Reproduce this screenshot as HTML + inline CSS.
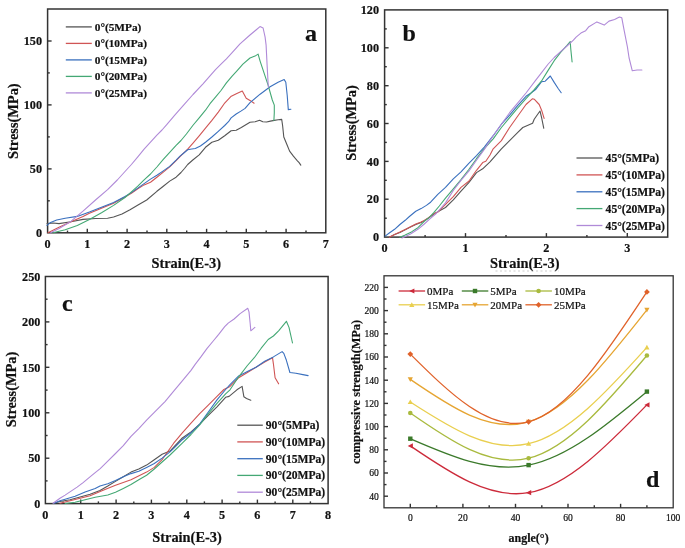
<!DOCTYPE html>
<html><head><meta charset="utf-8"><style>
html,body{margin:0;padding:0;background:#fff;}
svg{display:block;filter:blur(0.5px);}
text{font-family:"Liberation Serif",serif;fill:#111;stroke:#111;stroke-width:0.2px;}
</style></head><body>
<svg width="685" height="548" viewBox="0 0 685 548">
<rect width="685" height="548" fill="#fff"/>
<rect x="47.6" y="9" width="278.2" height="223.8" fill="none" stroke="#333333" stroke-width="1.5"/>
<line x1="87.3" y1="232.8" x2="87.3" y2="228.8" stroke="#333333" stroke-width="1.4"/>
<line x1="127.1" y1="232.8" x2="127.1" y2="228.8" stroke="#333333" stroke-width="1.4"/>
<line x1="166.8" y1="232.8" x2="166.8" y2="228.8" stroke="#333333" stroke-width="1.4"/>
<line x1="206.6" y1="232.8" x2="206.6" y2="228.8" stroke="#333333" stroke-width="1.4"/>
<line x1="246.3" y1="232.8" x2="246.3" y2="228.8" stroke="#333333" stroke-width="1.4"/>
<line x1="286.1" y1="232.8" x2="286.1" y2="228.8" stroke="#333333" stroke-width="1.4"/>
<line x1="67.5" y1="232.8" x2="67.5" y2="230.6" stroke="#333333" stroke-width="1.4"/>
<line x1="107.2" y1="232.8" x2="107.2" y2="230.6" stroke="#333333" stroke-width="1.4"/>
<line x1="147" y1="232.8" x2="147" y2="230.6" stroke="#333333" stroke-width="1.4"/>
<line x1="186.7" y1="232.8" x2="186.7" y2="230.6" stroke="#333333" stroke-width="1.4"/>
<line x1="226.5" y1="232.8" x2="226.5" y2="230.6" stroke="#333333" stroke-width="1.4"/>
<line x1="266.2" y1="232.8" x2="266.2" y2="230.6" stroke="#333333" stroke-width="1.4"/>
<line x1="306" y1="232.8" x2="306" y2="230.6" stroke="#333333" stroke-width="1.4"/>
<line x1="47.6" y1="168.9" x2="51.6" y2="168.9" stroke="#333333" stroke-width="1.4"/>
<line x1="47.6" y1="104.9" x2="51.6" y2="104.9" stroke="#333333" stroke-width="1.4"/>
<line x1="47.6" y1="41" x2="51.6" y2="41" stroke="#333333" stroke-width="1.4"/>
<line x1="47.6" y1="200.8" x2="49.8" y2="200.8" stroke="#333333" stroke-width="1.4"/>
<line x1="47.6" y1="136.9" x2="49.8" y2="136.9" stroke="#333333" stroke-width="1.4"/>
<line x1="47.6" y1="72.9" x2="49.8" y2="72.9" stroke="#333333" stroke-width="1.4"/>
<text x="0" y="0" font-size="12.2" font-weight="bold" text-anchor="middle" transform="translate(47.6,248) scale(1,1.08)" >0</text>
<text x="0" y="0" font-size="12.2" font-weight="bold" text-anchor="middle" transform="translate(87.3,248) scale(1,1.08)" >1</text>
<text x="0" y="0" font-size="12.2" font-weight="bold" text-anchor="middle" transform="translate(127.1,248) scale(1,1.08)" >2</text>
<text x="0" y="0" font-size="12.2" font-weight="bold" text-anchor="middle" transform="translate(166.8,248) scale(1,1.08)" >3</text>
<text x="0" y="0" font-size="12.2" font-weight="bold" text-anchor="middle" transform="translate(206.6,248) scale(1,1.08)" >4</text>
<text x="0" y="0" font-size="12.2" font-weight="bold" text-anchor="middle" transform="translate(246.3,248) scale(1,1.08)" >5</text>
<text x="0" y="0" font-size="12.2" font-weight="bold" text-anchor="middle" transform="translate(286.1,248) scale(1,1.08)" >6</text>
<text x="0" y="0" font-size="12.2" font-weight="bold" text-anchor="middle" transform="translate(325.9,248) scale(1,1.08)" >7</text>
<text x="0" y="0" font-size="12.2" font-weight="bold" text-anchor="end" transform="translate(42,237) scale(1,1.08)" >0</text>
<text x="0" y="0" font-size="12.2" font-weight="bold" text-anchor="end" transform="translate(42,173.1) scale(1,1.08)" >50</text>
<text x="0" y="0" font-size="12.2" font-weight="bold" text-anchor="end" transform="translate(42,109.1) scale(1,1.08)" >100</text>
<text x="0" y="0" font-size="12.2" font-weight="bold" text-anchor="end" transform="translate(42,45.2) scale(1,1.08)" >150</text>
<text x="0" y="0" font-size="14.4" font-weight="bold" text-anchor="middle" transform="translate(18.3,121.2) rotate(-90)">Stress(MPa)</text>
<text x="186.2" y="268" font-size="14.4" font-weight="bold" text-anchor="middle" >Strain(E-3)</text>
<text x="305" y="40.8" font-size="24" font-weight="bold" text-anchor="start" >a</text>
<line x1="65.8" y1="26.9" x2="91.8" y2="26.9" stroke="#555555" stroke-width="1.3"/>
<text x="94.8" y="30.9" font-size="11.3" font-weight="bold" text-anchor="start" >0°(5MPa)</text>
<line x1="65.8" y1="43.4" x2="91.8" y2="43.4" stroke="#D05555" stroke-width="1.3"/>
<text x="94.8" y="47.4" font-size="11.3" font-weight="bold" text-anchor="start" >0°(10MPa)</text>
<line x1="65.8" y1="59.9" x2="91.8" y2="59.9" stroke="#3A70BE" stroke-width="1.3"/>
<text x="94.8" y="63.9" font-size="11.3" font-weight="bold" text-anchor="start" >0°(15MPa)</text>
<line x1="65.8" y1="76.4" x2="91.8" y2="76.4" stroke="#44A874" stroke-width="1.3"/>
<text x="94.8" y="80.4" font-size="11.3" font-weight="bold" text-anchor="start" >0°(20MPa)</text>
<line x1="65.8" y1="92.9" x2="91.8" y2="92.9" stroke="#B08AD8" stroke-width="1.3"/>
<text x="94.8" y="96.9" font-size="11.3" font-weight="bold" text-anchor="start" >0°(25MPa)</text>
<polyline points="47,223.6 53,223 59,223.6 71,221.8 83,219.4 95.5,218.5 107.6,218.2 113.6,217 122,213.9 130,209.7 138,205 146.7,200 156.9,191.3 163.3,186.2 169.7,181.1 176.1,177.2 181,172.5 184.5,168.5 187.7,164.5 192.8,160 199.2,154.9 205.5,147.3 211.9,142.2 218.3,140.2 224.7,135.8 231.1,130.7 236.2,130.2 241.3,127.5 250,122.3 255.1,121.7 259.6,120.2 262.8,121.7 266.6,122 270.4,121.1 274.3,120.4 278.1,119.8 281.7,119.4 282.6,125.5 283.8,137 287,144.7 289.6,151.1 293.4,156.2 297.2,160.6 299.1,162.6 300.8,165.1" fill="none" stroke="#555555" stroke-width="1.1" stroke-linejoin="round" stroke-linecap="round" opacity="1.0"/>
<polyline points="48,232.7 59,227.3 71,221.8 83,216.4 89.4,213.2 101.5,208.2 113.6,203.2 125,196.9 131.4,193.2 137.8,188.8 144.1,184.9 150.5,182.3 156.9,177.2 163.3,172.1 169.7,166.8 176.1,160.6 180,156.6 187.7,149.2 192.8,143.4 199.2,135.8 205.5,128.1 211.9,120.4 218.3,112.1 224.2,103.7 230.8,96.6 236.3,93.8 242.3,91.1 246.2,98.2 250,100.4 254.1,103.2" fill="none" stroke="#D05555" stroke-width="1.1" stroke-linejoin="round" stroke-linecap="round" opacity="1.0"/>
<polyline points="47,225.4 50.6,222.4 56.7,220 65.2,218.2 77.3,216.4 89.4,212.1 101.5,207.3 113.6,202.4 125,196.4 131.4,192.6 137.8,188.1 144.1,183.6 150.5,179.1 156.9,175.3 163.3,170.9 169.7,166.4 176.1,160.2 180,156.2 183.8,153 187.7,149.8 190.2,149.2 195.3,148.5 200.4,146 205.5,142.2 211.9,137 218.3,131.3 224.7,125.5 228.5,121.7 231.1,117.9 236.2,114 241.3,110.9 245.1,108.4 250,102.6 260.1,94.2 270.1,86.8 278.1,82.2 284.2,79.6 285.8,82.2 287.2,95.2 288.3,109.6 290.9,109.2" fill="none" stroke="#3A70BE" stroke-width="1.1" stroke-linejoin="round" stroke-linecap="round" opacity="1.0"/>
<polyline points="53,232.7 65.2,229.7 77.3,225.4 89.4,219.4 101.5,212.7 113.6,205.4 125,197.5 131.4,191.9 137.8,186.2 144.1,179.8 150.5,174 156.9,167 163.3,159.4 169.7,152.3 176.1,145.3 181,140.5 186.4,134 192.8,125.5 199.2,117.9 205.5,110.2 210,103.7 215.5,97.1 221,90.5 226.4,82.9 231.9,76.3 237.4,70.3 242.9,64.2 250,58 255,56.1 258.1,54.1 260.1,61.1 264.1,73.2 268.1,85.2 272.3,100 274.3,105.1 274.3,112.8 273.9,120.4" fill="none" stroke="#44A874" stroke-width="1.1" stroke-linejoin="round" stroke-linecap="round" opacity="1.0"/>
<polyline points="50.6,232.7 59.1,228.5 71.2,221.2 83.3,210.9 95.5,200 107.6,189.7 117.3,180 125,171.5 131.4,164.5 137.8,156.8 144.1,149.1 150.5,142.1 156.9,135.1 162,130 166.5,124.9 175,114.8 184.7,103.9 193,94.5 203,83.8 210,75.8 215.5,69.7 221,64.2 226.4,58.8 231.9,52.8 240,43.8 250,35 256,30 260,26.6 263.1,28 265.1,37.1 266.1,45.1 267.1,65.1 268.1,83.2 268.5,87.2" fill="none" stroke="#B08AD8" stroke-width="1.1" stroke-linejoin="round" stroke-linecap="round" opacity="1.0"/>
<rect x="384.6" y="9.9" width="283.1" height="227.2" fill="none" stroke="#333333" stroke-width="1.5"/>
<line x1="465.5" y1="237.1" x2="465.5" y2="233.1" stroke="#333333" stroke-width="1.4"/>
<line x1="546.4" y1="237.1" x2="546.4" y2="233.1" stroke="#333333" stroke-width="1.4"/>
<line x1="627.3" y1="237.1" x2="627.3" y2="233.1" stroke="#333333" stroke-width="1.4"/>
<line x1="425.1" y1="237.1" x2="425.1" y2="234.9" stroke="#333333" stroke-width="1.4"/>
<line x1="506" y1="237.1" x2="506" y2="234.9" stroke="#333333" stroke-width="1.4"/>
<line x1="586.9" y1="237.1" x2="586.9" y2="234.9" stroke="#333333" stroke-width="1.4"/>
<line x1="384.6" y1="199.2" x2="388.6" y2="199.2" stroke="#333333" stroke-width="1.4"/>
<line x1="384.6" y1="161.4" x2="388.6" y2="161.4" stroke="#333333" stroke-width="1.4"/>
<line x1="384.6" y1="123.5" x2="388.6" y2="123.5" stroke="#333333" stroke-width="1.4"/>
<line x1="384.6" y1="85.7" x2="388.6" y2="85.7" stroke="#333333" stroke-width="1.4"/>
<line x1="384.6" y1="47.8" x2="388.6" y2="47.8" stroke="#333333" stroke-width="1.4"/>
<line x1="384.6" y1="218.2" x2="386.8" y2="218.2" stroke="#333333" stroke-width="1.4"/>
<line x1="384.6" y1="180.3" x2="386.8" y2="180.3" stroke="#333333" stroke-width="1.4"/>
<line x1="384.6" y1="142.4" x2="386.8" y2="142.4" stroke="#333333" stroke-width="1.4"/>
<line x1="384.6" y1="104.6" x2="386.8" y2="104.6" stroke="#333333" stroke-width="1.4"/>
<line x1="384.6" y1="66.7" x2="386.8" y2="66.7" stroke="#333333" stroke-width="1.4"/>
<line x1="384.6" y1="28.9" x2="386.8" y2="28.9" stroke="#333333" stroke-width="1.4"/>
<text x="0" y="0" font-size="12.2" font-weight="bold" text-anchor="middle" transform="translate(384.6,252) scale(1,1.08)" >0</text>
<text x="0" y="0" font-size="12.2" font-weight="bold" text-anchor="middle" transform="translate(465.5,252) scale(1,1.08)" >1</text>
<text x="0" y="0" font-size="12.2" font-weight="bold" text-anchor="middle" transform="translate(546.4,252) scale(1,1.08)" >2</text>
<text x="0" y="0" font-size="12.2" font-weight="bold" text-anchor="middle" transform="translate(627.3,252) scale(1,1.08)" >3</text>
<text x="0" y="0" font-size="12.2" font-weight="bold" text-anchor="end" transform="translate(379,241.3) scale(1,1.08)" >0</text>
<text x="0" y="0" font-size="12.2" font-weight="bold" text-anchor="end" transform="translate(379,203.4) scale(1,1.08)" >20</text>
<text x="0" y="0" font-size="12.2" font-weight="bold" text-anchor="end" transform="translate(379,165.6) scale(1,1.08)" >40</text>
<text x="0" y="0" font-size="12.2" font-weight="bold" text-anchor="end" transform="translate(379,127.7) scale(1,1.08)" >60</text>
<text x="0" y="0" font-size="12.2" font-weight="bold" text-anchor="end" transform="translate(379,89.9) scale(1,1.08)" >80</text>
<text x="0" y="0" font-size="12.2" font-weight="bold" text-anchor="end" transform="translate(379,52) scale(1,1.08)" >100</text>
<text x="0" y="0" font-size="12.2" font-weight="bold" text-anchor="end" transform="translate(379,14.1) scale(1,1.08)" >120</text>
<text x="0" y="0" font-size="14.4" font-weight="bold" text-anchor="middle" transform="translate(355.5,123) rotate(-90)">Stress(MPa)</text>
<text x="524.8" y="267.6" font-size="14.4" font-weight="bold" text-anchor="middle" >Strain(E-3)</text>
<text x="402.5" y="40.6" font-size="24" font-weight="bold" text-anchor="start" >b</text>
<line x1="495.5" y1="271" x2="559" y2="271" stroke="#9a9a9a" stroke-width="0.9" stroke-dasharray="2,2.5" opacity="0.55"/>
<line x1="576.5" y1="158" x2="602.4" y2="158" stroke="#555555" stroke-width="1.3"/>
<text x="605.6" y="162" font-size="11.6" font-weight="bold" text-anchor="start" >45°(5MPa)</text>
<line x1="576.5" y1="174.9" x2="602.4" y2="174.9" stroke="#D05555" stroke-width="1.3"/>
<text x="605.6" y="178.9" font-size="11.6" font-weight="bold" text-anchor="start" >45°(10MPa)</text>
<line x1="576.5" y1="191.8" x2="602.4" y2="191.8" stroke="#3A70BE" stroke-width="1.3"/>
<text x="605.6" y="195.8" font-size="11.6" font-weight="bold" text-anchor="start" >45°(15MPa)</text>
<line x1="576.5" y1="208.6" x2="602.4" y2="208.6" stroke="#44A874" stroke-width="1.3"/>
<text x="605.6" y="212.6" font-size="11.6" font-weight="bold" text-anchor="start" >45°(20MPa)</text>
<line x1="576.5" y1="225.5" x2="602.4" y2="225.5" stroke="#B08AD8" stroke-width="1.3"/>
<text x="605.6" y="229.5" font-size="11.6" font-weight="bold" text-anchor="start" >45°(25MPa)</text>
<polyline points="389.3,237.2 394.6,234.6 399.9,232.4 405.2,229.8 410.5,227.1 415.8,224.5 421.1,222.4 424.3,220.8 428.5,218.1 434,214 440,210.5 445.5,207.5 453.3,199.8 461,191.2 468.8,182.7 476.5,172.6 482.7,168.8 490,161.8 501.4,148.8 509.6,140.6 517.8,132.4 522.8,127.5 532.6,123.3 534.2,119.2 540,111 541.6,117.6 543.8,128.3" fill="none" stroke="#555555" stroke-width="1.1" stroke-linejoin="round" stroke-linecap="round" opacity="1.0"/>
<polyline points="389.3,237.2 394.6,234.4 399.9,232 405.2,229.4 410.5,226.7 415.8,224 421.1,222 424.3,220.5 428.5,217.6 434,213.6 437.8,212.2 445.5,204.4 453.3,196.7 461,187.4 468.8,181.2 476.5,170.3 482.7,162.6 485.8,161.3 490,155 493.2,148.8 501.4,140.6 509.6,127.5 517.8,116 526,104.5 532.6,98.7 534.2,99.2 539.2,104.5 541.6,110.2 544.1,118.4" fill="none" stroke="#D05555" stroke-width="1.1" stroke-linejoin="round" stroke-linecap="round" opacity="1.0"/>
<polyline points="385.1,236.1 389.3,233 394.6,229.3 399.9,224.5 405.2,220.3 409.4,216.5 415.8,211.3 421.1,208.6 426.4,205.4 430.6,202.2 437.8,194.3 445.5,187.4 453.3,178.8 461,171.9 468.8,163.3 476.5,155.6 484.3,147.1 493.2,135.7 501.4,124.2 509.6,115.1 517.8,105.3 526,96.3 531,93 535.9,89.2 541.4,81.8 545.2,81.2 550.3,76 554.2,82.4 558,88.2 561.2,92.7" fill="none" stroke="#3A70BE" stroke-width="1.1" stroke-linejoin="round" stroke-linecap="round" opacity="1.0"/>
<polyline points="399.9,237.2 405.2,235.1 411.5,231.9 417.9,227.7 424.3,221.3 429.6,217.1 434,212.3 439.3,206 445.5,198.2 453.3,188.9 461,179.6 468.8,169.5 476.5,158.7 484.3,148.6 493.2,138.9 501.4,127.5 509.6,117.6 517.8,107.8 526,98.7 534.2,89.7 541.4,81.2 547.8,70.9 554.2,60.7 560.6,52.4 567,45.3 570.2,41.5 570.8,49.2 572.1,62" fill="none" stroke="#44A874" stroke-width="1.1" stroke-linejoin="round" stroke-linecap="round" opacity="1.0"/>
<polyline points="402,238 410.5,234 417.9,229.3 424.3,224 429.6,219.2 436.2,213.5 445.5,202.9 453.3,190.5 461,180.4 468.8,171.1 476.5,160.2 484.3,149.4 493,136 501.4,124.2 509.6,112.7 517.8,102.8 526,93 535,81.2 541.4,72.8 547.8,64.5 554.2,57.5 560.6,51.7 567,46 573.4,40.2 576.1,37.1 580.9,33.1 585.7,30.7 588.9,26.7 596.9,21.9 604.2,25.1 609,21.1 614.6,19.5 619.4,17 621.8,17.8 624.2,30.7 627.4,46.8 629.1,58 632.3,70.8 637.1,70 641.9,70" fill="none" stroke="#B08AD8" stroke-width="1.1" stroke-linejoin="round" stroke-linecap="round" opacity="1.0"/>
<rect x="45.4" y="276.5" width="282.7" height="227.1" fill="none" stroke="#333333" stroke-width="1.5"/>
<line x1="80.7" y1="503.6" x2="80.7" y2="499.6" stroke="#333333" stroke-width="1.4"/>
<line x1="116.1" y1="503.6" x2="116.1" y2="499.6" stroke="#333333" stroke-width="1.4"/>
<line x1="151.4" y1="503.6" x2="151.4" y2="499.6" stroke="#333333" stroke-width="1.4"/>
<line x1="186.8" y1="503.6" x2="186.8" y2="499.6" stroke="#333333" stroke-width="1.4"/>
<line x1="222.1" y1="503.6" x2="222.1" y2="499.6" stroke="#333333" stroke-width="1.4"/>
<line x1="257.4" y1="503.6" x2="257.4" y2="499.6" stroke="#333333" stroke-width="1.4"/>
<line x1="292.8" y1="503.6" x2="292.8" y2="499.6" stroke="#333333" stroke-width="1.4"/>
<line x1="63.1" y1="503.6" x2="63.1" y2="501.4" stroke="#333333" stroke-width="1.4"/>
<line x1="98.4" y1="503.6" x2="98.4" y2="501.4" stroke="#333333" stroke-width="1.4"/>
<line x1="133.8" y1="503.6" x2="133.8" y2="501.4" stroke="#333333" stroke-width="1.4"/>
<line x1="169.1" y1="503.6" x2="169.1" y2="501.4" stroke="#333333" stroke-width="1.4"/>
<line x1="204.4" y1="503.6" x2="204.4" y2="501.4" stroke="#333333" stroke-width="1.4"/>
<line x1="239.8" y1="503.6" x2="239.8" y2="501.4" stroke="#333333" stroke-width="1.4"/>
<line x1="275.1" y1="503.6" x2="275.1" y2="501.4" stroke="#333333" stroke-width="1.4"/>
<line x1="310.4" y1="503.6" x2="310.4" y2="501.4" stroke="#333333" stroke-width="1.4"/>
<line x1="45.4" y1="458.2" x2="49.4" y2="458.2" stroke="#333333" stroke-width="1.4"/>
<line x1="45.4" y1="412.8" x2="49.4" y2="412.8" stroke="#333333" stroke-width="1.4"/>
<line x1="45.4" y1="367.3" x2="49.4" y2="367.3" stroke="#333333" stroke-width="1.4"/>
<line x1="45.4" y1="321.9" x2="49.4" y2="321.9" stroke="#333333" stroke-width="1.4"/>
<line x1="45.4" y1="480.9" x2="47.6" y2="480.9" stroke="#333333" stroke-width="1.4"/>
<line x1="45.4" y1="435.5" x2="47.6" y2="435.5" stroke="#333333" stroke-width="1.4"/>
<line x1="45.4" y1="390.1" x2="47.6" y2="390.1" stroke="#333333" stroke-width="1.4"/>
<line x1="45.4" y1="344.6" x2="47.6" y2="344.6" stroke="#333333" stroke-width="1.4"/>
<line x1="45.4" y1="299.2" x2="47.6" y2="299.2" stroke="#333333" stroke-width="1.4"/>
<text x="0" y="0" font-size="12.2" font-weight="bold" text-anchor="middle" transform="translate(45.4,518.8) scale(1,1.08)" >0</text>
<text x="0" y="0" font-size="12.2" font-weight="bold" text-anchor="middle" transform="translate(80.7,518.8) scale(1,1.08)" >1</text>
<text x="0" y="0" font-size="12.2" font-weight="bold" text-anchor="middle" transform="translate(116.1,518.8) scale(1,1.08)" >2</text>
<text x="0" y="0" font-size="12.2" font-weight="bold" text-anchor="middle" transform="translate(151.4,518.8) scale(1,1.08)" >3</text>
<text x="0" y="0" font-size="12.2" font-weight="bold" text-anchor="middle" transform="translate(186.8,518.8) scale(1,1.08)" >4</text>
<text x="0" y="0" font-size="12.2" font-weight="bold" text-anchor="middle" transform="translate(222.1,518.8) scale(1,1.08)" >5</text>
<text x="0" y="0" font-size="12.2" font-weight="bold" text-anchor="middle" transform="translate(257.4,518.8) scale(1,1.08)" >6</text>
<text x="0" y="0" font-size="12.2" font-weight="bold" text-anchor="middle" transform="translate(292.8,518.8) scale(1,1.08)" >7</text>
<text x="0" y="0" font-size="12.2" font-weight="bold" text-anchor="middle" transform="translate(328.1,518.8) scale(1,1.08)" >8</text>
<text x="0" y="0" font-size="12.2" font-weight="bold" text-anchor="end" transform="translate(40.4,507.8) scale(1,1.08)" >0</text>
<text x="0" y="0" font-size="12.2" font-weight="bold" text-anchor="end" transform="translate(40.4,462.4) scale(1,1.08)" >50</text>
<text x="0" y="0" font-size="12.2" font-weight="bold" text-anchor="end" transform="translate(40.4,417) scale(1,1.08)" >100</text>
<text x="0" y="0" font-size="12.2" font-weight="bold" text-anchor="end" transform="translate(40.4,371.5) scale(1,1.08)" >150</text>
<text x="0" y="0" font-size="12.2" font-weight="bold" text-anchor="end" transform="translate(40.4,326.1) scale(1,1.08)" >200</text>
<text x="0" y="0" font-size="12.2" font-weight="bold" text-anchor="end" transform="translate(40.4,280.7) scale(1,1.08)" >250</text>
<text x="0" y="0" font-size="14.4" font-weight="bold" text-anchor="middle" transform="translate(16,389.5) rotate(-90)">Stress(MPa)</text>
<text x="187" y="541.7" font-size="14.4" font-weight="bold" text-anchor="middle" >Strain(E-3)</text>
<text x="62" y="310.5" font-size="24" font-weight="bold" text-anchor="start" >c</text>
<line x1="237.3" y1="425.2" x2="262.8" y2="425.2" stroke="#555555" stroke-width="1.3"/>
<text x="265.8" y="429.2" font-size="11.6" font-weight="bold" text-anchor="start" >90°(5MPa)</text>
<line x1="237.3" y1="441.9" x2="262.8" y2="441.9" stroke="#D05555" stroke-width="1.3"/>
<text x="265.8" y="445.9" font-size="11.6" font-weight="bold" text-anchor="start" >90°(10MPa)</text>
<line x1="237.3" y1="458.7" x2="262.8" y2="458.7" stroke="#3A70BE" stroke-width="1.3"/>
<text x="265.8" y="462.7" font-size="11.6" font-weight="bold" text-anchor="start" >90°(15MPa)</text>
<line x1="237.3" y1="475.4" x2="262.8" y2="475.4" stroke="#44A874" stroke-width="1.3"/>
<text x="265.8" y="479.4" font-size="11.6" font-weight="bold" text-anchor="start" >90°(20MPa)</text>
<line x1="237.3" y1="492.2" x2="262.8" y2="492.2" stroke="#B08AD8" stroke-width="1.3"/>
<text x="265.8" y="496.2" font-size="11.6" font-weight="bold" text-anchor="start" >90°(25MPa)</text>
<polyline points="53.5,503.2 60,501.5 70.1,499.7 80.1,497 90.1,494.2 100,490.4 107.8,486 115.5,481.4 123.3,476.7 131,472.1 138.8,469 146.6,465.1 154.3,459.7 162.1,454.2 170,451.1 182.3,438 191,431.9 199.7,424.1 208.3,415.4 217,406.8 225.6,397.3 229.1,396.4 236.9,389.8 242.1,386.4 243.9,396.8 246.5,398.5 250.8,400.2" fill="none" stroke="#555555" stroke-width="1.1" stroke-linejoin="round" stroke-linecap="round" opacity="1.0"/>
<polyline points="60,503.2 70.1,500.7 80.1,498.2 90.1,495.7 100.2,491.6 105,489.6 115.5,485.3 131,479.8 146.6,472.1 154.3,467.4 162.1,459.7 165,455.5 173.7,443.2 182.3,432.8 191,423.2 199.7,413.7 208.3,405.1 217,396.4 223.9,389.5 230,386.4 238.7,377.7 247.4,372.5 256,367.3 264.7,362.1 272.5,357.7 273.4,363.8 275.1,377.7 278.6,383.8" fill="none" stroke="#D05555" stroke-width="1.1" stroke-linejoin="round" stroke-linecap="round" opacity="1.0"/>
<polyline points="54,503.2 60,500.7 65.1,499.2 75.1,496.2 85.1,492.1 95.2,488.6 100,486 107.8,483.7 115.5,480.6 123.3,476.7 131,473.6 138.8,471.3 146.6,467.4 154.3,463.5 162.1,458.1 170,451.9 173.7,448.4 182.3,439.7 191,432.8 199.7,424.1 208.3,412 217,399.9 225.6,389.5 230,384.6 238.7,375.9 247.4,371.6 256,367.3 264.7,361.2 273.4,356.9 282.1,351.6 283.8,353.4 286.4,360.3 289.9,372.5 295.9,373.3 302.9,374.6 308.1,375.6" fill="none" stroke="#3A70BE" stroke-width="1.1" stroke-linejoin="round" stroke-linecap="round" opacity="1.0"/>
<polyline points="65.1,503.5 75.1,502.2 85.1,499.7 95.2,497.2 107.8,495 115.5,492.3 123.3,488.4 131,484.5 138.8,479.8 146.6,475.2 154.3,469 162.1,462 170,455 182.3,443.2 191,434.5 199.7,425 208.3,413.7 217,403.3 225.6,393.8 230,389.8 238.7,376.8 247.4,365.5 254.3,357.7 261.2,348.2 268.2,339.5 273.4,336 278.6,330.8 286.4,321.3 289,327.4 292.5,343" fill="none" stroke="#44A874" stroke-width="1.1" stroke-linejoin="round" stroke-linecap="round" opacity="1.0"/>
<polyline points="53,503.2 60,498.2 65.1,495.1 71.1,491.1 77.1,487.1 83.1,482.6 89.1,477.6 95.2,472.6 100.2,468.6 107.8,461.2 115.5,453.5 123.3,445.7 131,436.4 138.8,428.6 146.6,420.1 154.3,412.3 165,401.6 173.7,391.2 182.3,380.8 191,370.4 195,364.6 200.9,356.9 206.9,348.6 212.8,341.5 218.7,334.4 224.7,326.7 228.2,323.1 234.1,319 240.1,313.6 247.8,308.3 249,311.9 250.2,323.7 250.8,330.8 254.9,327.3" fill="none" stroke="#B08AD8" stroke-width="1.1" stroke-linejoin="round" stroke-linecap="round" opacity="1.0"/>
<rect x="384" y="275.8" width="289.2" height="232" fill="none" stroke="#333333" stroke-width="1.3"/>
<line x1="410.3" y1="507.8" x2="410.3" y2="503.8" stroke="#333333" stroke-width="1.4"/>
<line x1="462.9" y1="507.8" x2="462.9" y2="503.8" stroke="#333333" stroke-width="1.4"/>
<line x1="515.5" y1="507.8" x2="515.5" y2="503.8" stroke="#333333" stroke-width="1.4"/>
<line x1="568" y1="507.8" x2="568" y2="503.8" stroke="#333333" stroke-width="1.4"/>
<line x1="620.6" y1="507.8" x2="620.6" y2="503.8" stroke="#333333" stroke-width="1.4"/>
<line x1="436.6" y1="507.8" x2="436.6" y2="505.3" stroke="#333333" stroke-width="1.4"/>
<line x1="489.2" y1="507.8" x2="489.2" y2="505.3" stroke="#333333" stroke-width="1.4"/>
<line x1="541.8" y1="507.8" x2="541.8" y2="505.3" stroke="#333333" stroke-width="1.4"/>
<line x1="594.3" y1="507.8" x2="594.3" y2="505.3" stroke="#333333" stroke-width="1.4"/>
<line x1="646.9" y1="507.8" x2="646.9" y2="505.3" stroke="#333333" stroke-width="1.4"/>
<line x1="384" y1="496.2" x2="388" y2="496.2" stroke="#333333" stroke-width="1.4"/>
<line x1="384" y1="473" x2="388" y2="473" stroke="#333333" stroke-width="1.4"/>
<line x1="384" y1="449.8" x2="388" y2="449.8" stroke="#333333" stroke-width="1.4"/>
<line x1="384" y1="426.6" x2="388" y2="426.6" stroke="#333333" stroke-width="1.4"/>
<line x1="384" y1="403.4" x2="388" y2="403.4" stroke="#333333" stroke-width="1.4"/>
<line x1="384" y1="380.2" x2="388" y2="380.2" stroke="#333333" stroke-width="1.4"/>
<line x1="384" y1="357" x2="388" y2="357" stroke="#333333" stroke-width="1.4"/>
<line x1="384" y1="333.8" x2="388" y2="333.8" stroke="#333333" stroke-width="1.4"/>
<line x1="384" y1="310.6" x2="388" y2="310.6" stroke="#333333" stroke-width="1.4"/>
<line x1="384" y1="287.4" x2="388" y2="287.4" stroke="#333333" stroke-width="1.4"/>
<line x1="384" y1="484.6" x2="386.5" y2="484.6" stroke="#333333" stroke-width="1.4"/>
<line x1="384" y1="461.4" x2="386.5" y2="461.4" stroke="#333333" stroke-width="1.4"/>
<line x1="384" y1="438.2" x2="386.5" y2="438.2" stroke="#333333" stroke-width="1.4"/>
<line x1="384" y1="415" x2="386.5" y2="415" stroke="#333333" stroke-width="1.4"/>
<line x1="384" y1="391.8" x2="386.5" y2="391.8" stroke="#333333" stroke-width="1.4"/>
<line x1="384" y1="368.6" x2="386.5" y2="368.6" stroke="#333333" stroke-width="1.4"/>
<line x1="384" y1="345.4" x2="386.5" y2="345.4" stroke="#333333" stroke-width="1.4"/>
<line x1="384" y1="322.2" x2="386.5" y2="322.2" stroke="#333333" stroke-width="1.4"/>
<line x1="384" y1="299" x2="386.5" y2="299" stroke="#333333" stroke-width="1.4"/>
<text x="0" y="0" font-size="9.6" font-weight="normal" text-anchor="middle" transform="translate(410.3,521.3) scale(1,1.12)" >0</text>
<text x="0" y="0" font-size="9.6" font-weight="normal" text-anchor="middle" transform="translate(462.9,521.3) scale(1,1.12)" >20</text>
<text x="0" y="0" font-size="9.6" font-weight="normal" text-anchor="middle" transform="translate(515.5,521.3) scale(1,1.12)" >40</text>
<text x="0" y="0" font-size="9.6" font-weight="normal" text-anchor="middle" transform="translate(568,521.3) scale(1,1.12)" >60</text>
<text x="0" y="0" font-size="9.6" font-weight="normal" text-anchor="middle" transform="translate(620.6,521.3) scale(1,1.12)" >80</text>
<text x="0" y="0" font-size="9.6" font-weight="normal" text-anchor="middle" transform="translate(673.2,521.3) scale(1,1.12)" >100</text>
<text x="0" y="0" font-size="9.6" font-weight="normal" text-anchor="end" transform="translate(378.9,499.5) scale(1,1.12)" >40</text>
<text x="0" y="0" font-size="9.6" font-weight="normal" text-anchor="end" transform="translate(378.9,476.3) scale(1,1.12)" >60</text>
<text x="0" y="0" font-size="9.6" font-weight="normal" text-anchor="end" transform="translate(378.9,453.1) scale(1,1.12)" >80</text>
<text x="0" y="0" font-size="9.6" font-weight="normal" text-anchor="end" transform="translate(378.9,429.9) scale(1,1.12)" >100</text>
<text x="0" y="0" font-size="9.6" font-weight="normal" text-anchor="end" transform="translate(378.9,406.7) scale(1,1.12)" >120</text>
<text x="0" y="0" font-size="9.6" font-weight="normal" text-anchor="end" transform="translate(378.9,383.5) scale(1,1.12)" >140</text>
<text x="0" y="0" font-size="9.6" font-weight="normal" text-anchor="end" transform="translate(378.9,360.3) scale(1,1.12)" >160</text>
<text x="0" y="0" font-size="9.6" font-weight="normal" text-anchor="end" transform="translate(378.9,337.1) scale(1,1.12)" >180</text>
<text x="0" y="0" font-size="9.6" font-weight="normal" text-anchor="end" transform="translate(378.9,313.9) scale(1,1.12)" >200</text>
<text x="0" y="0" font-size="9.6" font-weight="normal" text-anchor="end" transform="translate(378.9,290.7) scale(1,1.12)" >220</text>
<text x="0" y="0" font-size="12.3" font-weight="bold" text-anchor="middle" transform="translate(360.3,391.9) rotate(-90)">compressive strength(MPa)</text>
<text x="528.6" y="541.5" font-size="12" font-weight="bold" text-anchor="middle" >angle(°)</text>
<text x="646" y="487.2" font-size="24" font-weight="bold" text-anchor="start" >d</text>
<path d="M410.3,445.9 C449.7,472.7 489.2,499.5 528.6,492.7 C568,485.9 607.5,445.4 646.9,404.9" fill="none" stroke="#CC2A3A" stroke-width="1.3"/>
<path d="M410.3,438.7 C449.7,455.8 489.2,473 528.6,465.1 C568,457.3 607.5,424.4 646.9,391.6" fill="none" stroke="#3B7A2B" stroke-width="1.3"/>
<path d="M410.3,413 C449.7,440.4 489.2,467.7 528.6,458.2 C568,448.6 607.5,402 646.9,355.5" fill="none" stroke="#A9BA3E" stroke-width="1.3"/>
<path d="M410.3,402 C449.7,427.4 489.2,452.8 528.6,443.7 C568,434.5 607.5,391 646.9,347.4" fill="none" stroke="#E9CF4F" stroke-width="1.3"/>
<path d="M410.3,379.4 C449.7,406.4 489.2,433.4 528.6,421.8 C568,410.2 607.5,360 646.9,309.8" fill="none" stroke="#E6A532" stroke-width="1.3"/>
<path d="M410.3,354.1 C449.7,393.2 489.2,432.2 528.6,421.8 C568,411.5 607.5,351.7 646.9,291.9" fill="none" stroke="#E0622A" stroke-width="1.3"/>
<polygon points="407.7,445.9 412.9,443.3 412.9,448.5" fill="#CC2A3A"/>
<polygon points="526,492.7 531.2,490.1 531.2,495.3" fill="#CC2A3A"/>
<polygon points="644.3,404.9 649.5,402.3 649.5,407.5" fill="#CC2A3A"/>
<rect x="408.1" y="436.5" width="4.4" height="4.4" fill="#3B7A2B"/>
<rect x="526.4" y="462.9" width="4.4" height="4.4" fill="#3B7A2B"/>
<rect x="644.7" y="389.4" width="4.4" height="4.4" fill="#3B7A2B"/>
<circle cx="410.3" cy="413" r="2.3" fill="#A9BA3E"/>
<circle cx="528.6" cy="458.2" r="2.3" fill="#A9BA3E"/>
<circle cx="646.9" cy="355.5" r="2.3" fill="#A9BA3E"/>
<polygon points="410.3,399.4 407.7,404.1 412.9,404.1" fill="#E9CF4F"/>
<polygon points="528.6,441.1 526,445.7 531.2,445.7" fill="#E9CF4F"/>
<polygon points="646.9,344.8 644.3,349.5 649.5,349.5" fill="#E9CF4F"/>
<polygon points="410.3,382 407.7,377.3 412.9,377.3" fill="#E6A532"/>
<polygon points="528.6,424.4 526,419.8 531.2,419.8" fill="#E6A532"/>
<polygon points="646.9,312.4 644.3,307.7 649.5,307.7" fill="#E6A532"/>
<polygon points="410.3,351.2 413.2,354.1 410.3,357 407.4,354.1" fill="#E0622A"/>
<polygon points="528.6,419 531.5,421.8 528.6,424.7 525.7,421.8" fill="#E0622A"/>
<polygon points="646.9,289.1 649.8,291.9 646.9,294.8 644.1,291.9" fill="#E0622A"/>
<line x1="398.6" y1="291" x2="425.1" y2="291" stroke="#CC2A3A" stroke-width="1.3"/>
<polygon points="409.2,291 414.4,288.4 414.4,293.6" fill="#CC2A3A"/>
<text x="427.1" y="294.8" font-size="11" font-weight="normal" text-anchor="start" >0MPa</text>
<line x1="461.8" y1="291" x2="488.3" y2="291" stroke="#3B7A2B" stroke-width="1.3"/>
<rect x="472.8" y="288.8" width="4.4" height="4.4" fill="#3B7A2B"/>
<text x="490.3" y="294.8" font-size="11" font-weight="normal" text-anchor="start" >5MPa</text>
<line x1="525.4" y1="291" x2="551.9" y2="291" stroke="#A9BA3E" stroke-width="1.3"/>
<circle cx="538.6" cy="291" r="2.3" fill="#A9BA3E"/>
<text x="553.9" y="294.8" font-size="11" font-weight="normal" text-anchor="start" >10MPa</text>
<line x1="398.6" y1="304.8" x2="425.1" y2="304.8" stroke="#E9CF4F" stroke-width="1.3"/>
<polygon points="411.8,302.2 409.2,306.9 414.4,306.9" fill="#E9CF4F"/>
<text x="427.1" y="308.6" font-size="11" font-weight="normal" text-anchor="start" >15MPa</text>
<line x1="461.8" y1="304.8" x2="488.3" y2="304.8" stroke="#E6A532" stroke-width="1.3"/>
<polygon points="475,307.4 472.4,302.7 477.6,302.7" fill="#E6A532"/>
<text x="490.3" y="308.6" font-size="11" font-weight="normal" text-anchor="start" >20MPa</text>
<line x1="525.4" y1="304.8" x2="551.9" y2="304.8" stroke="#E0622A" stroke-width="1.3"/>
<polygon points="538.6,301.9 541.5,304.8 538.6,307.7 535.7,304.8" fill="#E0622A"/>
<text x="553.9" y="308.6" font-size="11" font-weight="normal" text-anchor="start" >25MPa</text>
</svg>
</body></html>
